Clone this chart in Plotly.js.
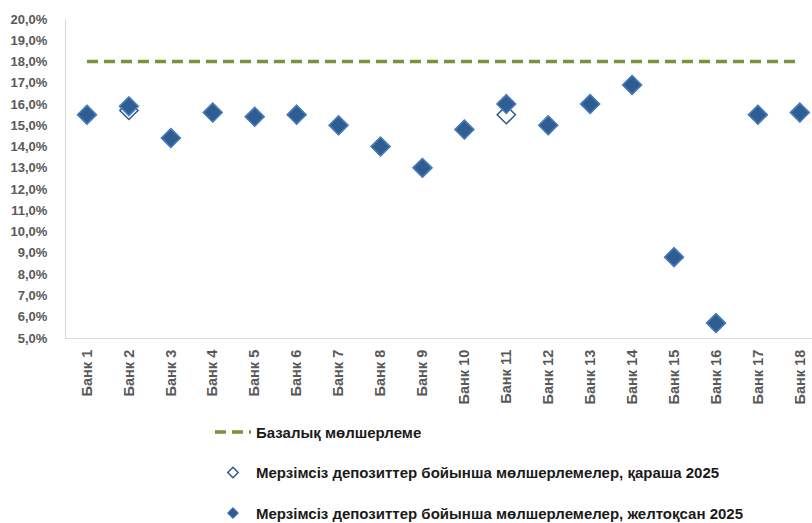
<!DOCTYPE html>
<html>
<head>
<meta charset="utf-8">
<script src="https://cdn.plot.ly/plotly-3.0.1.min.js"></script>
<style>html,body{margin:0;padding:0;background:#fff;}#chart{width:812px;height:523px;}</style>
</head>
<body>
<div id="chart"></div>
<script>
const banks = ["Банк 1","Банк 2","Банк 3","Банк 4","Банк 5","Банк 6","Банк 7","Банк 8","Банк 9","Банк 10","Банк 11","Банк 12","Банк 13","Банк 14","Банк 15","Банк 16","Банк 17","Банк 18"];
const baseRate = [18,18,18,18,18,18,18,18,18,18,18,18,18,18,18,18,18,18];
const rateNov2025 = [15.5,15.7,14.4,15.6,15.4,15.5,15.0,14.0,13.0,14.8,15.5,15.0,16.0,16.9,8.8,5.7,15.5,15.6];
const rateDec2025 = [15.5,15.9,14.4,15.6,15.4,15.5,15.0,14.0,13.0,14.8,16.0,15.0,16.0,16.9,8.8,5.7,15.5,15.6];
const yTicks = [5,6,7,8,9,10,11,12,13,14,15,16,17,18,19,20];
const yTickText = yTicks.map(v => v.toFixed(1).replace('.', ',') + '%');

const nameBase = 'Базалық мөлшерлеме';
const nameNov = 'Мерзімсіз депозиттер бойынша мөлшерлемелер, қараша 2025';
const nameDec = 'Мерзімсіз депозиттер бойынша мөлшерлемелер, желтоқсан 2025';

const novMarker = {symbol: 'diamond', size: 14, color: '#ffffff', line: {color: '#2e5a8c', width: 1.5}};
const decMarker = {symbol: 'diamond', size: 14.5, color: '#2f5d92', line: {color: '#4a7ebf', width: 1.5}};

const traces = [
  {
    x: banks, y: baseRate, type: 'scatter', mode: 'lines',
    name: nameBase, legendgroup: 'a', showlegend: true,
    line: {color: '#77933c', width: 3.5, dash: '11px,6px'}
  },
  {
    x: banks, y: rateNov2025, type: 'scatter', mode: 'markers',
    name: nameNov, showlegend: false, marker: novMarker
  },
  {
    x: banks, y: rateDec2025, type: 'scatter', mode: 'markers',
    name: nameDec, showlegend: false, marker: decMarker
  },
  {
    x: [null], y: [null], type: 'scatter', mode: 'markers',
    name: nameNov, legendgroup: 'b', showlegend: true,
    marker: {symbol: 'diamond', size: 8, color: '#ffffff', line: {color: '#2e5a8c', width: 1.5}}
  },
  {
    x: [null], y: [null], type: 'scatter', mode: 'markers',
    name: nameDec, legendgroup: 'c', showlegend: true,
    marker: {symbol: 'diamond', size: 8.5, color: '#2f5d92', line: {color: '#4a7ebf', width: 1}}
  }
];

const layout = {
  width: 812, height: 523,
  margin: {l: 66, r: 0, t: 19, b: 185, autoexpand: false},
  paper_bgcolor: '#ffffff', plot_bgcolor: '#ffffff',
  separators: ', ',
  showlegend: true,
  legend: {
    x: 0.193, xanchor: 'left', yref: 'container', y: 0.205, yanchor: 'top',
    orientation: 'v', tracegroupgap: 18, itemwidth: 36,
    font: {family: 'Liberation Sans, Arial, sans-serif', size: 15, color: '#1a1a1a', weight: 'bold'},
    bgcolor: 'rgba(0,0,0,0)'
  },
  xaxis: {
    type: 'category', range: [-0.5, 17.29], automargin: false,
    showgrid: false, zeroline: false,
    showline: true, linecolor: '#d9d9d9', linewidth: 1,
    tickangle: -90, ticks: '', ticklabelstandoff: 5,
    tickfont: {family: 'Liberation Sans, Arial, sans-serif', size: 14.5, color: '#595959', weight: 'bold'}
  },
  yaxis: {
    range: [5, 20], tickmode: 'array', tickvals: yTicks, ticktext: yTickText, automargin: false,
    showgrid: false, zeroline: false,
    showline: true, linecolor: '#d9d9d9', linewidth: 1,
    ticks: '', ticklabelstandoff: 15,
    tickfont: {family: 'Liberation Sans, Arial, sans-serif', size: 13, color: '#595959', weight: 'bold'}
  }
};

Plotly.newPlot('chart', traces, layout, {displayModeBar: false, staticPlot: true});
</script>
</body>
</html>
